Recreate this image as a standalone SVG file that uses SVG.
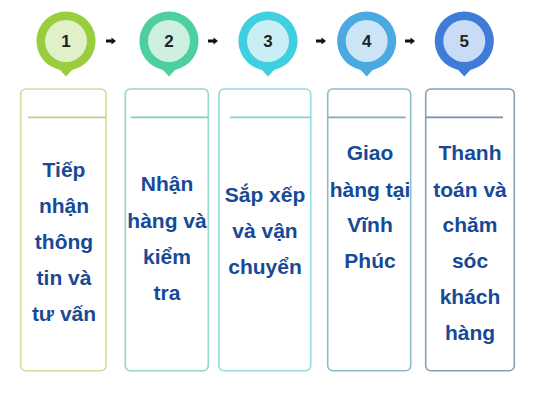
<svg xmlns="http://www.w3.org/2000/svg" width="533" height="400" viewBox="0 0 533 400">
<defs>
<style>
.num{font-family:"Liberation Sans",Arial,sans-serif;font-weight:bold;font-size:17px;fill:#222;text-anchor:middle}
.lbl{font-family:"Liberation Sans",Arial,sans-serif;font-weight:bold;font-size:21px;fill:#174a96;text-anchor:middle}
.box{fill:#fff;stroke-width:1.6}
.div{stroke-width:1.8}
.arr{fill:#111}
</style>
<path id="pin" d="M0,-29.5 A29.5,29.5 0 0 1 6,28.9 L0,35.5 L-6,28.9 A29.5,29.5 0 0 1 0,-29.5 Z"/>
<path id="ar" d="M-5,-1.4 H0.5 V-3.6 L5,0 L0.5,3.6 V1.4 H-5 Z"/>
</defs>
<rect width="533" height="400" fill="#fff"/>
<g id="connectors">
<use href="#ar" class="arr" x="111" y="41"/>
<use href="#ar" class="arr" x="213" y="41"/>
<use href="#ar" class="arr" x="321" y="41"/>
<use href="#ar" class="arr" x="410" y="41"/>
</g>
<g id="node1">
<use href="#pin" x="66" y="41" fill="#9acd3e"/>
<circle cx="66" cy="41" r="21" fill="#e0f0c9"/>
<text class="num" x="66" y="47">1</text>
<rect class="box" x="20.7" y="89" width="85.3" height="281.7" rx="5" stroke="#cfe09a"/>
<line class="div" x1="28" y1="117.3" x2="106" y2="117.3" stroke="#bccf86"/>
<text class="lbl"><tspan x="64" y="177">Tiếp</tspan><tspan x="64" y="213">nhận</tspan><tspan x="64" y="249">thông</tspan><tspan x="64" y="285">tin và</tspan><tspan x="64" y="321">tư vấn</tspan></text>
</g>
<g id="node2">
<use href="#pin" x="169" y="41" fill="#4dcf9f"/>
<circle cx="169" cy="41" r="21" fill="#cdf0e2"/>
<text class="num" x="169" y="47">2</text>
<rect class="box" x="125.3" y="89" width="83" height="281.7" rx="5" stroke="#92d8c9"/>
<line class="div" x1="130.7" y1="117.3" x2="208" y2="117.3" stroke="#7fcfbf"/>
<text class="lbl"><tspan x="167" y="191">Nhận</tspan><tspan x="167" y="228">hàng và</tspan><tspan x="167" y="264">kiểm</tspan><tspan x="167" y="300">tra</tspan></text>
</g>
<g id="node3">
<use href="#pin" x="268" y="41" fill="#3fcfe0"/>
<circle cx="268" cy="41" r="21" fill="#c9eff5"/>
<text class="num" x="268" y="47">3</text>
<rect class="box" x="219" y="89" width="91.7" height="281.7" rx="5" stroke="#95dadf"/>
<line class="div" x1="230" y1="117.3" x2="310" y2="117.3" stroke="#80d2da"/>
<text class="lbl"><tspan x="265" y="202">Sắp xếp</tspan><tspan x="265" y="238">và vận</tspan><tspan x="265" y="274">chuyển</tspan></text>
</g>
<g id="node4">
<use href="#pin" x="366.7" y="41" fill="#4aa9e0"/>
<circle cx="366.7" cy="41" r="21" fill="#cce5f6"/>
<text class="num" x="366.7" y="47">4</text>
<rect class="box" x="327.7" y="89" width="83" height="281.7" rx="5" stroke="#8fbcca"/>
<line class="div" x1="328" y1="117.3" x2="405.7" y2="117.3" stroke="#7fb0c0"/>
<text class="lbl"><tspan x="370" y="160">Giao</tspan><tspan x="370" y="197">hàng tại</tspan><tspan x="370" y="232">Vĩnh</tspan><tspan x="370" y="268">Phúc</tspan></text>
</g>
<g id="node5">
<use href="#pin" x="464.3" y="41" fill="#3f7bd9"/>
<circle cx="464.3" cy="41" r="21" fill="#c9dcf5"/>
<text class="num" x="464.3" y="47">5</text>
<rect class="box" x="425.7" y="89" width="88.6" height="281.7" rx="5" stroke="#869fba"/>
<line class="div" x1="426" y1="117.3" x2="503" y2="117.3" stroke="#7490ae"/>
<text class="lbl"><tspan x="470" y="160">Thanh</tspan><tspan x="470" y="197">toán và</tspan><tspan x="470" y="232">chăm</tspan><tspan x="470" y="268">sóc</tspan><tspan x="470" y="304">khách</tspan><tspan x="470" y="340">hàng</tspan></text>
</g>
</svg>
